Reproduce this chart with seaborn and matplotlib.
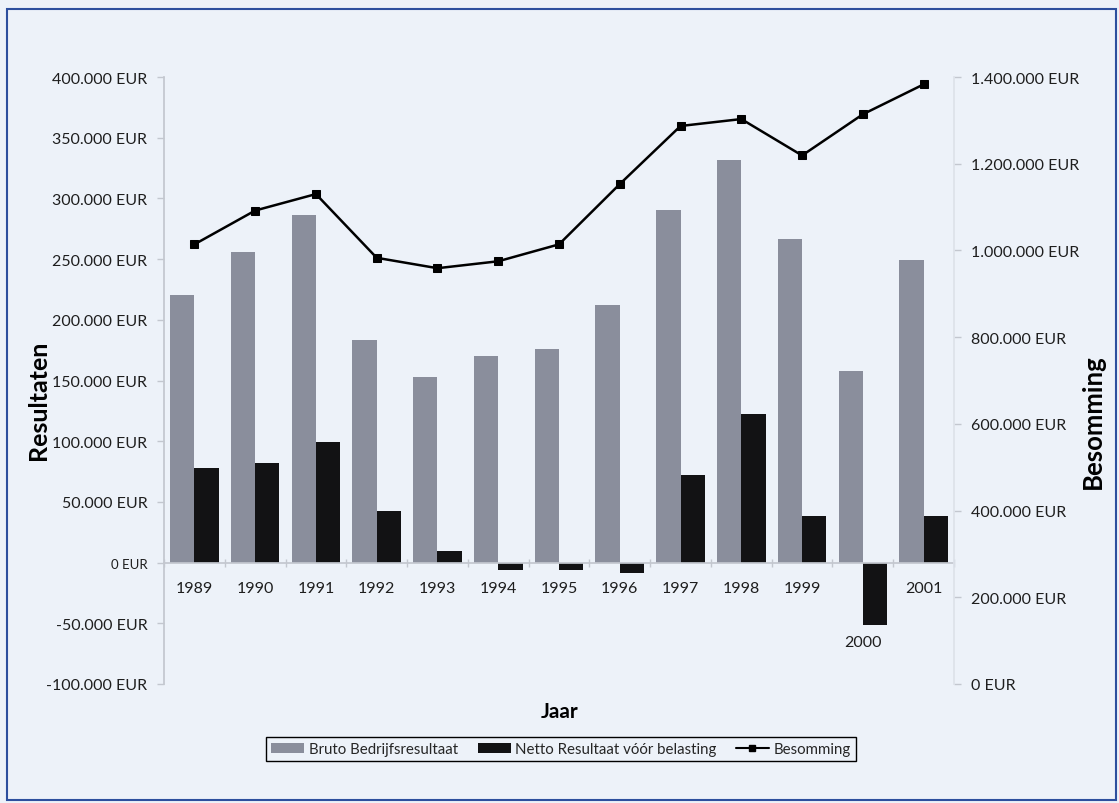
import matplotlib
matplotlib.use("Agg")
import numpy as np
import pandas as pd
import seaborn as sns
import matplotlib.pyplot as plt
from matplotlib.patches import Patch, Rectangle
from matplotlib.lines import Line2D

# ---- data ----
years = [1989, 1990, 1991, 1992, 1993, 1994, 1995, 1996, 1997, 1998, 1999, 2000, 2001]
bruto = [220500, 255500, 286500, 183000, 152500, 170000, 176000, 212500, 290500, 331500, 266500, 158000, 249000]
netto = [78000, 82000, 99500, 42500, 9500, -6000, -6500, -8700, 72500, 122500, 38300, -51400, 38000]
besomming = [1014000, 1092000, 1130000, 983000, 959000, 975000, 1014000, 1153000, 1287000, 1303000, 1219000, 1314000, 1383000]
series_names = ["Bruto Bedrijfsresultaat", "Netto Resultaat vóór belasting", "Besomming"]
left_ticks = [-100000, -50000, 0, 50000, 100000, 150000, 200000, 250000, 300000, 350000, 400000]
right_ticks = [0, 200000, 400000, 600000, 800000, 1000000, 1200000, 1400000]

BG = "#edf2f9"
GRAY = "#8a8e9c"
BLACK = "#121214"
AXC = "#c3c7cf"
TXT = "#1e1e1e"

sns.set_theme(style="white")
plt.rcParams['font.family'] = ['Lato', 'DejaVu Sans']

def eur(v):
    return f"{int(v):,} EUR".replace(",", ".")

df = pd.DataFrame({"Jaar": [str(y) for y in years] * 2,
                   "Waarde": bruto + netto,
                   "Reeks": [series_names[0]] * len(years) + [series_names[1]] * len(years)})

fig = plt.figure(figsize=(11.19, 8.04), dpi=100)
fig.patch.set_facecolor(BG)
W, H = 1119, 804
x0, x1, y0, y1 = 164, 954, 78, 685
ax = fig.add_axes([x0 / W, 1 - y1 / H, (x1 - x0) / W, (y1 - y0) / H])
ax.set_facecolor(BG)

sns.barplot(data=df, x="Jaar", y="Waarde", hue="Reeks", palette=[GRAY, BLACK],
            width=0.8, saturation=1, ax=ax, legend=False, edgecolor="none", linewidth=0)
ax.set_ylim(-100000, 400000)

ax2 = ax.twinx()
sns.lineplot(x=np.arange(len(years)), y=besomming, ax=ax2, color="black", marker="s",
             markersize=6, linewidth=1.8, markeredgecolor="black")
ax2.set_ylim(0, 1400000)
ax.set_xlim(-0.5, len(years) - 0.5)

# left axis
ax.set_yticks(left_ticks, labels=[eur(v) for v in left_ticks])
for lbl in ax.get_yticklabels():
    lbl.set_fontsize(9.5 if lbl.get_text() == "0 EUR" else 11.5)
    lbl.set_color(TXT)
ax.tick_params(axis="y", left=True, length=5, width=1, color=AXC, pad=7)
ax.set_ylabel("")
ax.set_xlabel("")

# x axis at zero
ax.spines["bottom"].set_position(("data", 0))
ax.spines["bottom"].set_color(AXC)
ax.spines["left"].set_color(AXC)
ax.spines["top"].set_visible(False)
ax.spines["right"].set_visible(False)
ax.set_xticks(range(len(years)),
              labels=["" if y == 2000 else str(y) for y in years])
ax.set_xticks(np.arange(len(years) + 1) - 0.5, minor=True)
ax.tick_params(axis="x", which="major", length=0, pad=13, labelsize=11.5, labelcolor=TXT)
ax.tick_params(axis="x", which="minor", bottom=True, length=6, width=1, color=AXC, direction="inout")
i2000 = years.index(2000)
ax.annotate(str(years[i2000]), xy=(i2000, netto[i2000]), xytext=(0, -7), textcoords="offset points",
            ha="center", va="top", fontsize=11.5, color=TXT)

# right axis
ax2.set_yticks(right_ticks, labels=[eur(v) for v in right_ticks])
ax2.tick_params(axis="y", right=True, length=5, width=1, color=AXC, pad=7, labelsize=11.5, labelcolor=TXT)
ax2.set_ylabel("")
for s in ["top", "left", "bottom"]:
    ax2.spines[s].set_visible(False)
ax2.spines["right"].set_color("#dde2ea")

# axis titles
fig.text(38 / W, 1 - 400 / H, "Resultaten", rotation=90, ha="center", va="center",
         fontsize=18, fontweight="bold", color="black")
fig.text(1093 / W, 1 - 422 / H, "Besomming", rotation=90, ha="center", va="center",
         fontsize=18.5, fontweight="bold", color="black")
fig.text(560 / W, 1 - 712 / H, "Jaar", ha="center", va="center",
         fontsize=15, fontweight="bold", color="black")

# legend
handles = [Patch(facecolor=GRAY, edgecolor="none"),
           Patch(facecolor=BLACK, edgecolor="none"),
           Line2D([0], [0], color="black", marker="s", markersize=5, linewidth=1.5)]
leg = fig.legend(handles, series_names, loc="center", bbox_to_anchor=(561 / W, 1 - 750 / H),
                 ncol=3, frameon=True, fancybox=False, edgecolor="black", facecolor=BG,
                 fontsize=10.8, handlelength=2.2, handleheight=0.7, columnspacing=1.3,
                 handletextpad=0.3, borderpad=0.35, borderaxespad=0)
leg.get_frame().set_linewidth(1.0)
leg.get_frame().set_alpha(1)

# figure border
fig.add_artist(Rectangle((7 / W, 1 - 801 / H), (1116 - 7) / W, (801 - 10) / H,
                         transform=fig.transFigure, fill=False, edgecolor="#2d4f9e", linewidth=1.5))

fig.savefig("out.png", dpi=100, facecolor=BG)
